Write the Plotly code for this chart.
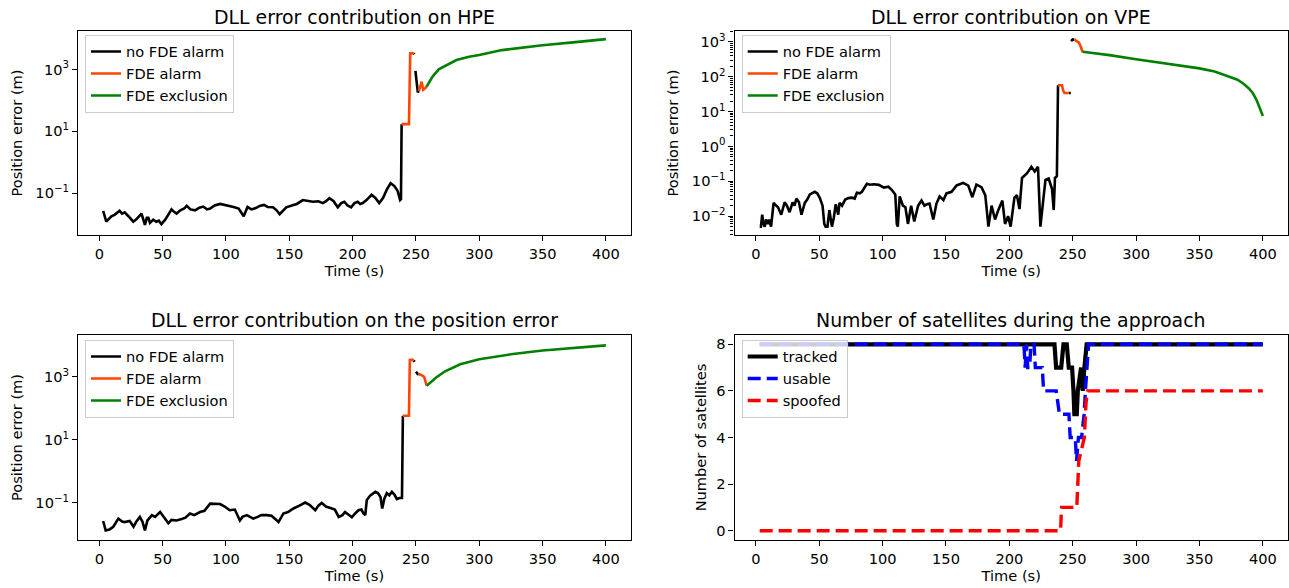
import plotly.graph_objects as go

# ---------------- data ----------------
# HPE panel (top-left)
hpe_nofde_t = [3, 5.5, 7, 9.5, 12, 14, 16, 18, 20, 23, 26.8, 29, 31, 33.3, 35, 36, 37.5, 38.7, 40, 42.6, 45, 47, 49,
               52, 55, 57, 59, 61, 64, 67, 69, 72, 75.6, 79, 82, 85, 87.5, 91, 95.4, 99, 102, 106, 110, 114, 117, 120,
               123.6, 126.6, 130, 133, 137.1, 140, 142.4, 145, 147.6, 152, 156, 160.7, 165, 168.6, 173, 176.5, 179,
               181.7, 185, 188.3, 191, 193.5, 196, 198.8, 201.5, 204, 206, 208, 211, 215, 218, 221, 224, 227, 230,
               233, 235.5, 237.5, 238.2, 238.7, None, 248.3, 249, None, 249.6, 250.5, 251.5, 252.2]
hpe_nofde_v = [0.027, 0.012, 0.014, 0.018, 0.02, 0.023, 0.027, 0.022, 0.024, 0.018, 0.012, 0.014, 0.018, 0.022, 0.013,
               0.0095, 0.016, 0.016, 0.011, 0.014, 0.012, 0.013, 0.010, 0.014, 0.022, 0.030, 0.025, 0.022, 0.028,
               0.032, 0.039, 0.030, 0.028, 0.034, 0.037, 0.030, 0.032, 0.040, 0.045, 0.042, 0.038, 0.036, 0.032,
               0.018, 0.036, 0.030, 0.033, 0.039, 0.042, 0.036, 0.035, 0.028, 0.021, 0.028, 0.035, 0.040, 0.045,
               0.060, 0.055, 0.053, 0.055, 0.048, 0.055, 0.069, 0.055, 0.035, 0.048, 0.053, 0.040, 0.035, 0.048,
               0.053, 0.045, 0.048, 0.060, 0.089, 0.070, 0.048, 0.070, 0.13, 0.21, 0.17, 0.12, 0.06, 0.064, 17,
               None, 3300, 3100, None, 900, 350, 180, 200]
hpe_alarm_t = [238.7, 244.5, 245.5, 247.5, 248.3, None, 252.2, 253, 254.5, 255.8, 257, 258.4]
hpe_alarm_v = [17, 17, 3300, 3400, 3300, None, 200, 240, 400, 220, 240, 275]
hpe_excl_t = [258.4, 263, 268, 274, 282, 292, 300, 318, 335, 350, 376, 400]
hpe_excl_v = [275, 575, 1000, 1380, 2000, 2570, 2900, 4200, 5100, 6000, 7600, 9500]

# VPE panel (top-right)
vpe_nofde_t = [3, 4, 5, 6, 7, 8, 9.5, 10.5, 12, 14, 16, 17.5, 20, 22.7, 24.5, 26.6, 29, 30.5, 32, 34, 36, 38.6,
               40.5, 42.6, 46.5, 48.5, 50.5, 52.6, 54, 55, 56.5, 58, 60, 61.5, 63, 65, 66, 68, 70.5, 73, 75.7, 78,
               79.7, 82, 83.7, 87.6, 90, 93, 97, 101, 104.5, 107, 110, 111.2, 112, 113.5, 116, 118, 120, 122.5, 125,
               128, 130.7, 133, 135, 137, 140, 142.5, 145, 148, 150.4, 154.4, 158.4, 163.6, 167.6, 170.8, 174, 178,
               181, 183.5, 186, 188.7, 191, 194.5, 196.6, 199, 201, 204, 206, 208, 210, 214, 217.4, 220, 222.6,
               224.5, 227, 228.5, 231, 233.7, 235, 236, 237.5, 238.4, None, 247, 248.5, None, 248.7, 250, 251.3]
vpe_nofde_v = [0.005, 0.005, 0.011, 0.006, 0.005, 0.008, 0.006, 0.008, 0.005, 0.024, 0.02, 0.018, 0.011, 0.025,
               0.02, 0.013, 0.025, 0.02, 0.032, 0.025, 0.011, 0.024, 0.03, 0.042, 0.05, 0.045, 0.033, 0.02, 0.006,
               0.005, 0.005, 0.015, 0.005, 0.009, 0.022, 0.011, 0.024, 0.02, 0.03, 0.033, 0.034, 0.032, 0.047,
               0.045, 0.05, 0.085, 0.08, 0.082, 0.079, 0.066, 0.07, 0.058, 0.042, 0.006, 0.005, 0.037, 0.02,
               0.018, 0.006, 0.02, 0.007, 0.02, 0.028, 0.02, 0.022, 0.023, 0.008, 0.023, 0.037, 0.029, 0.045,
               0.05, 0.076, 0.09, 0.075, 0.035, 0.08, 0.068, 0.04, 0.005, 0.02, 0.008, 0.014, 0.028, 0.006, 0.01,
               0.005, 0.034, 0.04, 0.016, 0.125, 0.17, 0.26, 0.19, 0.26, 0.005, 0.035, 0.11, 0.12, 0.06, 0.015,
               0.125, 0.14, 57, None, 34, 34, None, 1050, 1170, 1150]
vpe_alarm_t = [238.4, 241.5, 242.5, 243.5, 247, None, 251.3, 253, 255, 256.5, 257.9]
vpe_alarm_v = [57, 57, 40, 34, 34, None, 1150, 1050, 950, 700, 500]
vpe_excl_t = [257.9, 279, 300, 325, 350, 362, 373, 380, 385, 389, 392, 394.4, 396.5, 398.3, 400]
vpe_excl_v = [520, 415, 315, 235, 173, 140, 100, 82, 62, 46, 34, 24, 16, 11, 7.5]

# position error panel (bottom-left)
pe_nofde_t = [3, 5, 8, 11, 15, 18, 20, 24, 27, 29, 32, 34, 36, 38, 41.5, 44, 48, 51, 54.5, 57, 61, 65, 68, 71.6,
              75, 79.5, 83, 87.5, 92, 95.4, 99, 103, 107, 111, 113, 116.5, 119, 121.5, 125, 128, 132, 136, 141.5,
              143, 145.3, 149, 153.3, 158, 162.5, 166, 170.5, 173, 175.6, 179, 183.5, 186, 189, 192, 194, 197,
              199.4, 202, 204.6, 207, 208.6, 210, 211.2, 214, 218, 220, 222, 223.4, 225, 227, 229, 231, 233, 235,
              237, 239, 239.7, None, 248.2, 249, None, 250, 252]
pe_nofde_v = [0.026, 0.013, 0.014, 0.017, 0.031, 0.025, 0.024, 0.026, 0.017, 0.024, 0.035, 0.025, 0.013, 0.027,
              0.04, 0.035, 0.05, 0.035, 0.022, 0.028, 0.027, 0.03, 0.033, 0.045, 0.04, 0.05, 0.055, 0.093, 0.09,
              0.09, 0.075, 0.057, 0.06, 0.027, 0.035, 0.04, 0.035, 0.031, 0.035, 0.04, 0.04, 0.038, 0.024, 0.03,
              0.045, 0.05, 0.065, 0.08, 0.1, 0.085, 0.057, 0.08, 0.097, 0.075, 0.065, 0.06, 0.035, 0.04, 0.05,
              0.04, 0.034, 0.045, 0.057, 0.06, 0.045, 0.04, 0.12, 0.17, 0.22, 0.2, 0.15, 0.065, 0.13, 0.2, 0.17,
              0.22, 0.18, 0.13, 0.14, 0.14, 58, None, 3300, 3000, None, 1450, 1150]
pe_alarm_t = [239.7, 244.5, 245.2, 247, 248.2, None, 252, 253, 255.5, 256.5, 258.5]
pe_alarm_v = [58, 58, 3400, 3500, 3300, None, 1150, 1200, 1070, 1000, 520]
pe_excl_t = [258.5, 262, 266, 273, 285, 300, 325, 350, 375, 400]
pe_excl_v = [520, 700, 950, 1500, 2500, 3600, 5200, 6900, 8500, 10000]

# satellites panel (bottom-right)
tracked_t = [3, 235.6, 236.9, 240.9, 242.7, 245.3, 246.9, 249.5, 250.6, 251.3, 253.2, 254, 256.6, 257.9, 259.2, 261, 400]
tracked_n = [8, 8, 7, 7, 8, 8, 7, 7, 6, 5, 5, 6, 7, 6, 7, 8, 8]
usable_t = [3, 211.5, 212.5, 213.5, 214.5, 216, 217, 219.5, 220.5, 226, 227, 237, 239.5, 247, 248, 252, 253,
            254.5, 257, 259, 260, 261, 262.5, 400]
usable_n = [8, 8, 7, 8, 7, 7, 8, 8, 7, 7, 6, 6, 5, 5, 4, 4, 3, 4, 4, 5, 6, 7, 8, 8]
spoofed_t = [3, 240.4, 241.2, 253.2, 254.8, 259.2, 260.5, 261.8, 400]
spoofed_n = [0, 0, 1, 1, 3, 4, 5.5, 6, 6]

# ---------------- figure ----------------
BLACK, ORANGE, GREEN = "black", "#ff4500", "#008000"
FS = 14.6
fig = go.Figure()

def add_err(tx, vy, name, color, xa, ya, leg, show=True):
    fig.add_trace(go.Scatter(x=tx, y=vy, mode="lines", name=name, line=dict(color=color, width=2.6),
                             xaxis=xa, yaxis=ya, legend=leg, showlegend=show, connectgaps=False))

for (nt, nv, at, av, et, ev, xa, ya, leg) in [
        (hpe_nofde_t, hpe_nofde_v, hpe_alarm_t, hpe_alarm_v, hpe_excl_t, hpe_excl_v, "x", "y", "legend"),
        (vpe_nofde_t, vpe_nofde_v, vpe_alarm_t, vpe_alarm_v, vpe_excl_t, vpe_excl_v, "x2", "y2", "legend2"),
        (pe_nofde_t, pe_nofde_v, pe_alarm_t, pe_alarm_v, pe_excl_t, pe_excl_v, "x3", "y3", "legend3")]:
    add_err(nt, nv, "no FDE alarm", BLACK, xa, ya, leg)
    add_err(at, av, "FDE alarm", ORANGE, xa, ya, leg)
    add_err(et, ev, "FDE exclusion", GREEN, xa, ya, leg)

fig.add_trace(go.Scatter(x=tracked_t, y=tracked_n, mode="lines", name="tracked",
                         line=dict(color="black", width=4.2), xaxis="x4", yaxis="y4", legend="legend4"))
fig.add_trace(go.Scatter(x=usable_t, y=usable_n, mode="lines", name="usable",
                         line=dict(color="blue", width=3.4, dash="13px,6px"), xaxis="x4", yaxis="y4", legend="legend4"))
fig.add_trace(go.Scatter(x=spoofed_t, y=spoofed_n, mode="lines", name="spoofed",
                         line=dict(color="red", width=3.4, dash="13px,6px"), xaxis="x4", yaxis="y4", legend="legend4"))

W, H = 1289, 588
def px_x(p): return p / W
def px_y(p): return 1 - p / H

common = dict(showline=True, linecolor="black", linewidth=1.1, mirror=True, ticks="outside", ticklen=5,
              tickwidth=1.1, tickcolor="black", showgrid=False, zeroline=False, tickfont=dict(size=FS, color="black"))

xL = [px_x(78), px_x(631)]
xR = [px_x(734.5), px_x(1288)]
yT = [px_y(235), px_y(31)]
yB = [px_y(540), px_y(335)]
xrange_ = [-16.85, 419.85]

def xax(dom, anchor):
    return dict(common, domain=dom, anchor=anchor, range=xrange_, tick0=0, dtick=50,
                title=dict(text="Time (s)", standoff=4, font=dict(size=FS, color="black")))

def ytitle(text, standoff):
    return dict(text=text, standoff=standoff, font=dict(size=FS, color="black"))

def sup(e):
    return "10<sup>" + str(e).replace("-", "\u2212") + "</sup>"

fig.update_layout(
    width=W, height=H, margin=dict(l=0, r=0, t=0, b=0),
    paper_bgcolor="white", plot_bgcolor="white",
    font=dict(family="DejaVu Sans", size=FS, color="black"),
    xaxis=xax(xL, "y"), xaxis2=xax(xR, "y2"), xaxis3=xax(xL, "y3"), xaxis4=xax(xR, "y4"),
    yaxis=dict(common, domain=yT, anchor="x", type="log", range=[-2.35, 4.24],
               tickvals=[0.1, 10, 1000], ticktext=[sup(-1), sup(1), sup(3)],
               title=ytitle("Position error (m)", 9)),
    yaxis2=dict(common, domain=yT, anchor="x2", type="log", range=[-2.54, 3.31],
                tickvals=[0.01, 0.1, 1, 10, 100, 1000], ticktext=[sup(-2), sup(-1), sup(0), sup(1), sup(2), sup(3)],
                minor=dict(ticks="outside", ticklen=3, tickcolor="black", dtick="D1", showgrid=False),
                title=ytitle("Position error (m)", 9)),
    yaxis3=dict(common, domain=yB, anchor="x3", type="log", range=[-2.19, 4.33],
                tickvals=[0.1, 10, 1000], ticktext=[sup(-1), sup(1), sup(3)],
                title=ytitle("Position error (m)", 9)),
    yaxis4=dict(common, domain=yB, anchor="x4", range=[-0.4, 8.4], tick0=0, dtick=2,
                title=ytitle("Number of satellites", 6)),
)

leg_common = dict(xanchor="left", yanchor="top", bgcolor="rgba(255,255,255,0.8)", bordercolor="#cccccc",
                  borderwidth=1, font=dict(size=FS, color="black"), tracegroupgap=0)
fig.update_layout(
    legend=dict(leg_common, x=px_x(85), y=px_y(34.5)),
    legend2=dict(leg_common, x=px_x(741.7), y=px_y(34.5)),
    legend3=dict(leg_common, x=px_x(85), y=px_y(339.5)),
    legend4=dict(leg_common, x=px_x(741.7), y=px_y(339.5)),
)

titles = [("DLL error contribution on HPE", xL, 17), ("DLL error contribution on VPE", xR, 17),
          ("DLL error contribution on the position error", xL, 320),
          ("Number of satellites during the approach", xR, 320)]
for text, dom, yc in titles:
    fig.add_annotation(text=text, xref="paper", yref="paper", x=(dom[0] + dom[1]) / 2, y=px_y(yc),
                       xanchor="center", yanchor="middle", showarrow=False, font=dict(size=18.9, color="black"))

fig.write_html("out.html", config={"displayModeBar": False},
               post_script="document.body.style.margin='0px';document.body.style.overflow='hidden';")
